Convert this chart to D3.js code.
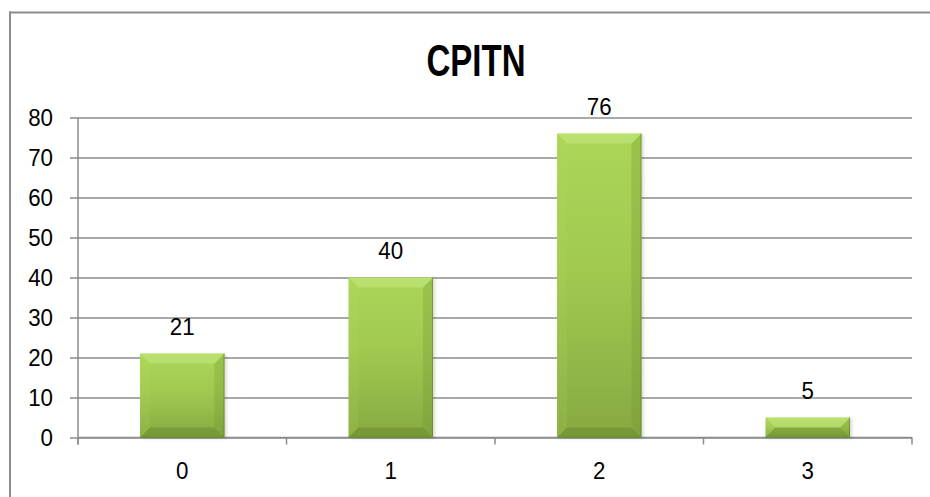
<!DOCTYPE html>
<html>
<head>
<meta charset="utf-8">
<script src="https://cdn.jsdelivr.net/npm/d3@7/dist/d3.min.js"></script>
<style>
  html, body { margin: 0; padding: 0; background: #fff; overflow: hidden; }
  svg { display: block; }
  text { font-family: "Liberation Sans", Arial, sans-serif; fill: #000; }
</style>
</head>
<body>
<svg id="chart" width="930" height="497"></svg>
<script>
// CPITN score distribution
const categories = ["0", "1", "2", "3"];
const counts = [21, 40, 76, 5];
const yTicks = [0, 10, 20, 30, 40, 50, 60, 70, 80];
const title = "CPITN";

const svg = d3.select("#chart");
const W = 930, H = 497;
const plot = { left: 78, right: 912, top: 117.5, bottom: 437.5 };
const grey = "#8c8c8c";

// outer chart frame: only the top and left edges fall inside the view
svg.append("line")
  .attr("x1", 9).attr("x2", W).attr("y1", 12.5).attr("y2", 12.5)
  .attr("stroke", grey).attr("stroke-width", 2);
svg.append("line")
  .attr("x1", 10).attr("x2", 10).attr("y1", 11.5).attr("y2", H)
  .attr("stroke", grey).attr("stroke-width", 2);

const x = d3.scaleBand().domain(categories)
  .range([plot.left, plot.right])
  .paddingInner(0.595).paddingOuter(0.2975);
const xOuter = d3.scaleBand().domain(categories).range([plot.left, plot.right]);
const y = d3.scaleLinear().domain([0, 80]).range([plot.bottom, plot.top]);

// title
svg.append("text")
  .attr("x", 476).attr("y", 76)
  .attr("text-anchor", "middle")
  .attr("font-size", 44).attr("font-weight", "bold")
  .attr("textLength", 99).attr("lengthAdjust", "spacingAndGlyphs")
  .text(title);

// horizontal gridlines with outside tick stubs
const yAxis = d3.axisLeft(y).tickValues(yTicks)
  .tickSize(-(plot.right - plot.left)).tickPadding(0).tickFormat("");
const gy = svg.append("g").attr("transform", `translate(${plot.left},0)`).call(yAxis);
gy.select(".domain").remove();
gy.selectAll(".tick line")
  .attr("x1", -8)
  .attr("stroke", grey).attr("stroke-width", 1.5);

// y tick labels
const numScale = 0.93;
const numSize = 24;
svg.append("g").selectAll("g")
  .data(yTicks).join("g")
  .attr("transform", d => `translate(53,${y(d) + 8.5}) scale(${numScale},1)`)
  .append("text")
  .attr("text-anchor", "end")
  .attr("font-size", numSize)
  .text(d => d);

// y axis line
svg.append("line")
  .attr("x1", plot.left).attr("x2", plot.left)
  .attr("y1", plot.top).attr("y2", plot.bottom + 7)
  .attr("stroke", grey).attr("stroke-width", 1.5);

// x axis line and category boundary ticks
svg.append("line")
  .attr("x1", plot.left).attr("x2", plot.right)
  .attr("y1", plot.bottom).attr("y2", plot.bottom)
  .attr("stroke", grey).attr("stroke-width", 1.5);
const bounds = categories.map(c => xOuter(c)).concat([plot.right]);
svg.append("g").selectAll("line")
  .data(bounds).join("line")
  .attr("x1", d => d).attr("x2", d => d)
  .attr("y1", plot.bottom).attr("y2", plot.bottom + 7)
  .attr("stroke", grey).attr("stroke-width", 1.5);

// x tick labels
svg.append("g").selectAll("g")
  .data(categories).join("g")
  .attr("transform", d => `translate(${xOuter(d) + xOuter.bandwidth() / 2},479) scale(${numScale},1)`)
  .append("text")
  .attr("text-anchor", "middle")
  .attr("font-size", numSize)
  .text(d => d);

// bar fill and bevel shading
const defs = svg.append("defs");
const grad = defs.append("linearGradient").attr("id", "barFill")
  .attr("x1", 0).attr("y1", 0).attr("x2", 0).attr("y2", 1);
grad.append("stop").attr("offset", "0%").attr("stop-color", "#abd657");
grad.append("stop").attr("offset", "45%").attr("stop-color", "#a1c951");
grad.append("stop").attr("offset", "100%").attr("stop-color", "#87a941");

const shadow = defs.append("filter").attr("id", "barShadow")
  .attr("x", "-10%").attr("y", "-10%").attr("width", "130%").attr("height", "130%");
shadow.append("feDropShadow")
  .attr("dx", 2).attr("dy", 1).attr("stdDeviation", 1.5)
  .attr("flood-color", "#000").attr("flood-opacity", 0.15);

const data = categories.map((c, i) => ({ cat: c, value: counts[i] }));
const bars = svg.append("g").selectAll("g")
  .data(data).join("g");

bars.append("rect")
  .attr("x", d => x(d.cat))
  .attr("y", d => y(d.value))
  .attr("width", x.bandwidth())
  .attr("height", d => y(0) - y(d.value))
  .attr("fill", "url(#barFill)")
  .attr("filter", "url(#barShadow)");

// bevel facets: top (light), left/right (slightly dark), bottom (dark)
function facets(d) {
  const x0 = x(d.cat), x1 = x0 + x.bandwidth();
  const t = y(d.value), b = y(0);
  const s = Math.min(10, (b - t) / 2);
  return [
    { pts: [[x0, t], [x1, t], [x1 - s, t + s], [x0 + s, t + s]], fill: "#d8f59a", op: 0.35 },
    { pts: [[x0, t], [x0 + s, t + s], [x0 + s, b - s], [x0, b]], fill: "#b5dc68", op: 0.15 },
    { pts: [[x1, t], [x1, b], [x1 - s, b - s], [x1 - s, t + s]], fill: "#6f9230", op: 0.28 },
    { pts: [[x0, b], [x0 + s, b - s], [x1 - s, b - s], [x1, b]], fill: "#5c7d26", op: 0.38 }
  ];
}
bars.selectAll("polygon")
  .data(d => facets(d)).join("polygon")
  .attr("points", f => f.pts.map(p => p.join(",")).join(" "))
  .attr("fill", f => f.fill)
  .attr("fill-opacity", f => f.op);

// thin darker outline along the right and bottom edges
bars.append("path")
  .attr("d", d => {
    const x0 = x(d.cat), x1 = x0 + x.bandwidth(), t = y(d.value), b = y(0);
    return `M${x1 - 0.5},${t} L${x1 - 0.5},${b - 0.5} L${x0},${b - 0.5}`;
  })
  .attr("fill", "none").attr("stroke", "#5f7f28").attr("stroke-opacity", 0.6);

// value labels
bars.append("g")
  .attr("transform", d => `translate(${x(d.cat) + x.bandwidth() / 2},${y(d.value) - 19}) scale(${numScale},1)`)
  .append("text")
  .attr("text-anchor", "middle")
  .attr("font-size", numSize)
  .text(d => d.value);
</script>
</body>
</html>
